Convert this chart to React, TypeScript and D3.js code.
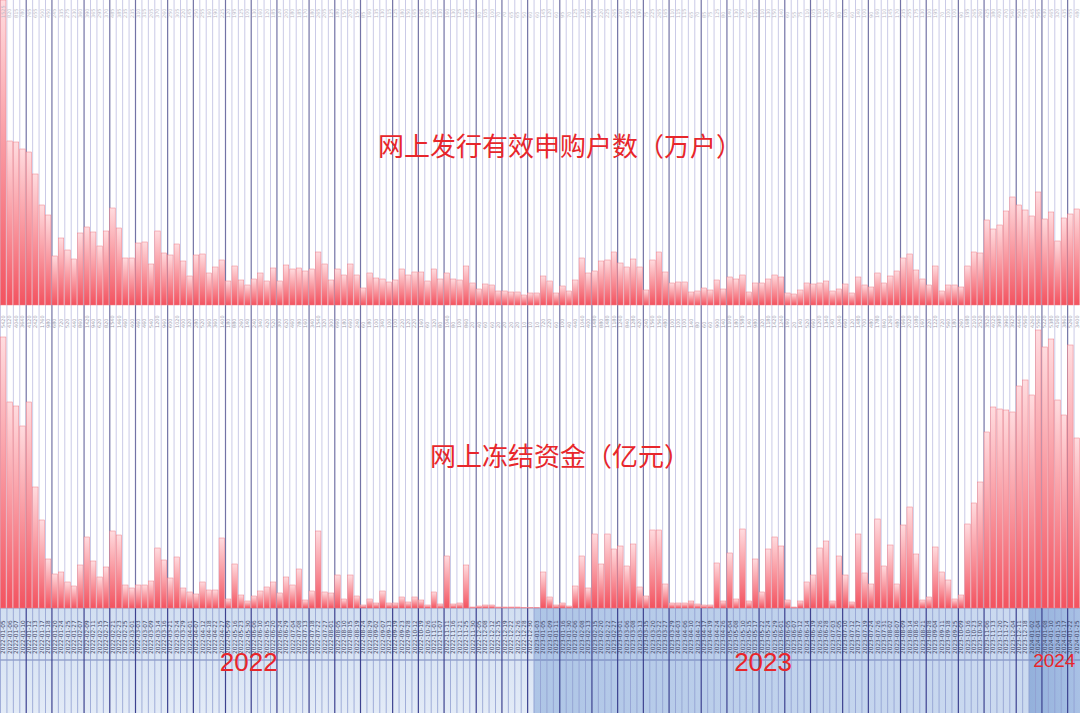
import React from "react";
import * as d3 from "d3";

// 网上发行有效申购户数（万户）
const households: number[] = [
  1525, 820, 815, 780, 765, 655, 500, 450, 245, 335, 275, 230, 360, 390, 365, 295, 370, 485, 385, 235,
  235, 310, 315, 205, 370, 260, 250, 305, 220, 145, 250, 255, 160, 190, 225, 120, 195, 125, 100, 130,
  160, 120, 185, 120, 200, 180, 185, 170, 180, 265, 205, 125, 180, 150, 205, 150, 85, 160, 135, 130,
  115, 125, 180, 150, 165, 165, 120, 180, 130, 160, 130, 125, 195, 110, 80, 105, 100, 70, 70, 65,
  65, 50, 60, 60, 145, 120, 60, 95, 70, 125, 235, 160, 170, 220, 225, 265, 210, 190, 230, 190,
  75, 225, 265, 165, 110, 115, 115, 65, 70, 85, 75, 125, 80, 140, 130, 150, 65, 110, 110, 130,
  150, 140, 60, 55, 75, 110, 105, 110, 120, 70, 80, 105, 60, 140, 100, 90, 160, 110, 145, 170,
  235, 255, 175, 130, 100, 195, 70, 100, 100, 90, 195, 265, 260, 425, 380, 400, 470, 540, 500, 475,
  445, 565, 430, 465, 320, 435, 455, 480,
];

// 网上冻结资金（亿元）
const frozen: number[] = [
  5420, 4120, 4040, 3640, 4120, 2420, 1760, 980, 680, 720, 520, 440, 860, 1420, 940, 620, 820, 1540, 1460, 460,
  400, 460, 460, 540, 1200, 960, 600, 1020, 400, 320, 280, 520, 360, 360, 1400, 180, 880, 260, 140, 240,
  340, 420, 520, 300, 620, 460, 780, 160, 340, 1540, 320, 300, 660, 180, 660, 240, 60, 180, 100, 340,
  100, 100, 220, 120, 220, 160, 60, 320, 80, 1040, 80, 100, 860, 20, 40, 60, 60, 20, 20, 20,
  20, 10, 10, 10, 720, 220, 60, 100, 40, 440, 1040, 400, 1480, 880, 1480, 1180, 1240, 840, 1280, 420,
  240, 1560, 1560, 480, 100, 100, 100, 140, 80, 60, 60, 900, 140, 1100, 180, 1580, 140, 980, 320, 1180,
  1420, 1240, 160, 20, 140, 520, 660, 1200, 1340, 140, 1040, 660, 120, 1480, 700, 480, 1780, 840, 1260, 480,
  1660, 2020, 1080, 160, 220, 1220, 720, 560, 180, 260, 1680, 2100, 2520, 3520, 4020, 3980, 3960, 3920, 4440, 4560,
  4260, 5560, 5220, 5380, 4160, 3860, 5260, 3400,
];

// 上市申购日期（按年份分组的月-日）
const days2022: string[] = [
  "01-05", "01-06", "01-07", "01-10", "01-12", "01-13", "01-17", "01-18", "01-20", "01-24", "01-25", "01-27",
  "02-07", "02-09", "02-11", "02-15", "02-17", "02-21", "02-23", "02-25",
  "03-01", "03-03", "03-07", "03-09", "03-14", "03-16", "03-21", "03-24", "03-29",
  "04-01", "04-07", "04-12", "04-18", "04-22", "04-27",
  "05-09", "05-16", "05-23", "05-30",
  "06-06", "06-10", "06-15", "06-20", "06-24", "06-29",
  "07-04", "07-08", "07-13", "07-18", "07-22", "07-27",
  "08-01", "08-05", "08-10", "08-15", "08-19", "08-24", "08-29",
  "09-02", "09-07", "09-13", "09-19", "09-23", "09-28",
  "10-12", "10-19", "10-26",
  "11-01", "11-07", "11-11", "11-16", "11-21", "11-25", "11-30",
  "12-05", "12-08", "12-12", "12-15", "12-19", "12-22", "12-26", "12-28", "12-30",
];
const days2023: string[] = [
  "01-03", "01-05", "01-09", "01-11", "01-16", "01-30",
  "02-06", "02-08", "02-13", "02-15", "02-20", "02-22", "02-27",
  "03-01", "03-06", "03-08", "03-13", "03-15", "03-20", "03-22", "03-27", "03-29",
  "04-03", "04-06", "04-10", "04-12", "04-17", "04-19", "04-24", "04-26",
  "05-04", "05-08", "05-10", "05-15", "05-17", "05-22", "05-24", "05-29",
  "06-01", "06-05", "06-07", "06-12", "06-14", "06-19", "06-26", "06-28",
  "07-03", "07-05", "07-10", "07-12", "07-17", "07-19", "07-24", "07-26", "07-31",
  "08-02", "08-07", "08-09", "08-14", "08-16", "08-21", "08-28",
  "09-04", "09-11", "09-18", "09-25",
  "10-09", "10-16", "10-23", "10-30",
  "11-06", "11-13", "11-20", "11-27",
  "12-04", "12-11", "12-18",
];
const days2024: string[] = ["01-02", "01-04", "01-08", "01-10", "01-15", "01-17", "01-22", "01-25"];

const years: string[] = ["2022", "2023", "2024"];
const yearDays: string[][] = [days2022, days2023, days2024];

// 深色分隔线所在列
const darkLines: number[] = [
  4, 8, 13, 17, 21, 26, 30, 35, 39, 43, 48, 52, 56, 61, 65, 69, 74, 78, 82, 87,
  92, 96, 100, 104, 109, 113, 118, 122, 126, 131, 135, 140, 144, 149, 153, 158, 162, 166,
];

const titleTop = "网上发行有效申购户数（万户）";
const titleBottom = "网上冻结资金（亿元）";

const W = 1080;
const H = 713;

export default function App() {
  const dates: string[] = [];
  const yearOf: number[] = [];
  yearDays.forEach((ds, yi) => ds.forEach((d) => { dates.push(`${years[yi]}-${d}`); yearOf.push(yi); }));
  const n = households.length;
  const idx = d3.range(n);

  const x = d3.scaleBand<number>().domain(idx).range([0, W]).paddingInner(0.16).paddingOuter(0.08);
  const step = x.step();

  const topBase = 305;
  const botTop = 330;
  const botBase = 608;
  const bandMid = 660;

  const yTop = d3.scaleLinear().domain([0, d3.max(households)!]).range([topBase, 0]);
  const yBot = d3.scaleLinear().domain([0, d3.max(frozen)!]).range([botBase, botTop]);

  const yearSpans = years.map((_, yi) => {
    const first = yearOf.indexOf(yi);
    const last = yearOf.lastIndexOf(yi);
    return { x0: first * step, x1: (last + 1) * step };
  });
  const darkSet = new Set(darkLines);
  const red = "#e8262b";
  const cjk = "'Noto Sans CJK SC', 'Noto Sans', sans-serif";

  return (
    <svg width={W} height={H} viewBox={`0 0 ${W} ${H}`} style={{ position: "absolute", left: 0, top: 0, background: "#fff" }}>
      <defs>
        <linearGradient id="barGrad" x1="0" y1="0" x2="0" y2="1">
          <stop offset="0" stopColor="#ffdcdf" />
          <stop offset="1" stopColor="#f3525f" />
        </linearGradient>
        <linearGradient id="band2022" x1="0" y1="0" x2="0" y2="1">
          <stop offset="0" stopColor="#d2dff1" />
          <stop offset="1" stopColor="#e3ebf7" />
        </linearGradient>
        <linearGradient id="band2023" x1="0" y1="0" x2="1" y2="0">
          <stop offset="0" stopColor="#aec5e6" />
          <stop offset="0.5" stopColor="#c0d2ec" />
          <stop offset="1" stopColor="#ccdaf0" />
        </linearGradient>
        <linearGradient id="band2024" x1="0" y1="0" x2="1" y2="0">
          <stop offset="0" stopColor="#93b0db" />
          <stop offset="1" stopColor="#a9c1e5" />
        </linearGradient>
      </defs>

      {/* bottom band backgrounds */}
      {yearSpans.map((s, i) => (
        <rect key={`band${i}`} x={s.x0} y={botBase} width={s.x1 - s.x0} height={H - botBase} fill={`url(#band${years[i]})`} />
      ))}
      <line x1={0} x2={W} y1={botBase} y2={botBase} stroke="#8a9ccc" strokeWidth={0.8} />
      <line x1={0} x2={W} y1={bandMid} y2={bandMid} stroke="#5a6cab" strokeWidth={0.8} />

      {/* vertical grid lines */}
      {d3.range(n + 1).map((i) => (
        <g key={`g${i}`}>
          <line
            x1={i * step + 0.5}
            x2={i * step + 0.5}
            y1={0}
            y2={botBase}
            stroke={darkSet.has(i) ? "#7373a6" : "#cacae7"}
            strokeWidth={darkSet.has(i) ? 1.2 : 1}
          />
          <line
            x1={i * step + 0.5}
            x2={i * step + 0.5}
            y1={botBase}
            y2={H}
            stroke={darkSet.has(i) ? "#3d4290" : "#8f9dd0"}
            strokeWidth={darkSet.has(i) ? 1.2 : 0.8}
          />
        </g>
      ))}

      {/* top bars */}
      {households.map((v, i) => (
        <rect
          key={`t${i}`}
          x={x(i)!}
          y={yTop(v)}
          width={x.bandwidth()}
          height={topBase - yTop(v)}
          fill="url(#barGrad)"
          stroke="#ef7c86"
          strokeWidth={0.5}
        />
      ))}

      {/* bottom bars */}
      {frozen.map((v, i) => (
        <rect
          key={`b${i}`}
          x={x(i)!}
          y={yBot(v)}
          width={x.bandwidth()}
          height={botBase - yBot(v)}
          fill="url(#barGrad)"
          stroke="#ef7c86"
          strokeWidth={0.5}
        />
      ))}

      {/* tiny value labels at the top */}
      {households.map((v, i) => (
        <text
          key={`tl${i}`}
          transform={`translate(${x(i)! + x.bandwidth() / 2 + 1.8},18) rotate(-90)`}
          fontSize={5}
          fill="#b8b8c8"
          fontFamily="'DejaVu Sans', sans-serif"
        >
          {v}
        </text>
      ))}
      {/* tiny value labels below the top panel */}
      {frozen.map((v, i) => (
        <text
          key={`bl${i}`}
          transform={`translate(${x(i)! + x.bandwidth() / 2 + 1.8},328) rotate(-90)`}
          fontSize={5}
          fill="#9a9aae"
          fontFamily="'DejaVu Sans', sans-serif"
        >
          {v}
        </text>
      ))}

      {/* date labels */}
      {dates.map((d, i) => (
        <text
          key={`d${i}`}
          transform={`translate(${x(i)! + x.bandwidth() / 2 + 2},654) rotate(-90)`}
          fontSize={5.8}
          fill="#3e4466"
          fontFamily="'DejaVu Sans', sans-serif"
        >
          {d}
        </text>
      ))}

      {/* titles */}
      <text x={560} y={156} textAnchor="middle" fontSize={26} fill={red} fontFamily={cjk}>
        {titleTop}
      </text>
      <text x={560} y={466} textAnchor="middle" fontSize={26} fill={red} fontFamily={cjk}>
        {titleBottom}
      </text>

      {/* year labels */}
      {years.map((yr, i) => {
        const s = yearSpans[i];
        const last = i === years.length - 1;
        const cx = last ? (s.x0 + s.x1) / 2 : (s.x0 + s.x1) / 2 - 18;
        return (
          <text
            key={yr}
            x={cx}
            y={last ? 667 : 671}
            textAnchor="middle"
            fontSize={last ? 19 : 26}
            fill={red}
            fontFamily="'Liberation Sans', Arial, sans-serif"
          >
            {yr}
          </text>
        );
      })}
    </svg>
  );
}
